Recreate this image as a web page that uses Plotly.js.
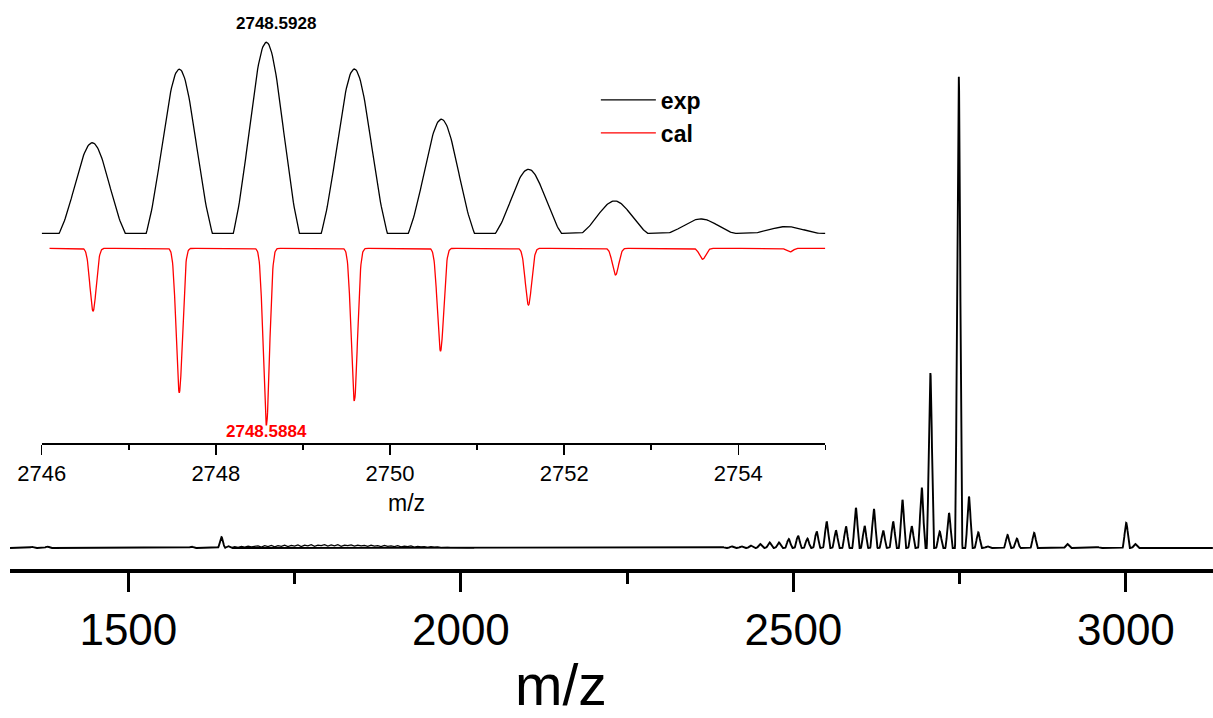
<!DOCTYPE html>
<html>
<head>
<meta charset="utf-8">
<script src="https://cdn.plot.ly/plotly-3.0.1.min.js"></script>
<style>html,body{margin:0;padding:0;background:#fff;}#chart{width:1213px;height:718px;}</style>
</head>
<body>
<div id="chart"></div>
<script>
// ---- Main spectrum: peak centres (m/z) and relative intensities (%)
const mainMz  = [1355, 1378, 1595, 1640, 1650,
  2393, 2407, 2422, 2436, 2450, 2464, 2478, 2493, 2507, 2521, 2535, 2550, 2564, 2579,
  2594, 2607, 2621, 2635, 2650, 2664, 2678, 2693, 2706, 2720, 2734, 2748.6, 2764, 2778,
  2792, 2822, 2836, 2862, 2912, 2957, 3000.5, 3014];
const mainInt = [0.25, 0.3, 0.3, 2.3, 0.4,
  0.2, 0.35, 0.35, 0.5, 0.85, 1.2, 1.2, 1.9, 2.6, 2.0, 3.5, 5.6, 3.7, 4.6,
  8.5, 4.7, 8.3, 3.7, 5.6, 10.2, 4.6, 12.8, 37.0, 3.5, 7.4, 100, 10.9, 3.3,
  0.35, 2.75, 2.0, 3.2, 0.85, 0.2, 5.3, 0.85];
// low-level noise band between ~1655 and ~2020 (estimated)
const noiseStart = 1655;
const noiseInt = [0.1,0.3,0.15,0.35,0.2,0.4,0.25,0.3,0.45,0.2,0.5,0.3,0.55,0.25,0.5,0.35,0.6,0.3,0.55,0.4,
  0.65,0.3,0.6,0.45,0.7,0.35,0.6,0.5,0.7,0.4,0.65,0.45,0.7,0.35,0.6,0.5,0.65,0.4,0.6,0.45,
  0.55,0.35,0.6,0.4,0.5,0.3,0.55,0.35,0.45,0.3,0.5,0.25,0.4,0.3,0.45,0.2,0.35,0.25,0.3,0.15,
  0.3,0.2,0.25,0.1,0.2,0.15,0.1,0.05,0.1,0.05,0.05,0,0,0];

// ---- Inset: isotope pattern, experimental vs calculated
const expMz  = [2746.58, 2747.58, 2748.58, 2749.59, 2750.59, 2751.59, 2752.58, 2753.57, 2754.55];
const expInt = [47.4, 85.9, 100, 86.0, 59.7, 33.5, 16.9, 7.5, 3.5];
const calMz  = [2746.59, 2747.58, 2748.58, 2749.59, 2750.58, 2751.59, 2752.59, 2753.59, 2754.59];
const calInt = [35.5, 81.7, 100, 86.4, 58.1, 32.1, 15.1, 6.2, 2.1];

const mainTicks = [1500, 2000, 2500, 3000];
const insetTicks = [2746, 2748, 2750, 2752, 2754];

// peak profile builder (truncated gaussian line shape)
function buildProfile(x0, x1, step, centers, heights, sigma, halfw) {
  const xs = [], ys = [];
  const cut = Math.exp(-halfw * halfw / (2 * sigma * sigma));
  for (let x = x0; x <= x1 + 1e-9; x += step) {
    let y = 0;
    for (let i = 0; i < centers.length; i++) {
      const d = x - centers[i];
      if (Math.abs(d) < halfw) {
        const v = heights[i] * (Math.exp(-d * d / (2 * sigma * sigma)) - cut) / (1 - cut);
        if (v > y) y = v;
      }
    }
    xs.push(+x.toFixed(4)); ys.push(y);
  }
  return {xs, ys};
}

const mainP = buildProfile(1322, 3131, 0.4, mainMz, mainInt, 2.4, 5.5);
const expP  = buildProfile(2746, 2755, 0.01, expMz, expInt, 0.2, 0.38);
const calP  = buildProfile(2746.09, 2755, 0.004, calMz, calInt, 0.036, 0.16);

const noiseX = noiseInt.map((_, i) => noiseStart + 5 * i);

const FONT = 'Liberation Sans, Arial, Helvetica, sans-serif';

const traces = [
  {x: mainP.xs, y: mainP.ys, type: 'scatter', mode: 'lines', xaxis: 'x', yaxis: 'y',
   line: {color: '#000', width: 1.9}, showlegend: false, hoverinfo: 'skip'},
  {x: noiseX, y: noiseInt, type: 'scatter', mode: 'lines', xaxis: 'x', yaxis: 'y',
   line: {color: '#000', width: 1.2}, showlegend: false, hoverinfo: 'skip'},
  {x: expP.xs, y: expP.ys, type: 'scatter', mode: 'lines', name: 'exp', xaxis: 'x2', yaxis: 'y2',
   line: {color: '#000', width: 1.3}},
  {x: calP.xs, y: calP.ys.map(v => -v), type: 'scatter', mode: 'lines', name: 'cal', xaxis: 'x2', yaxis: 'y3',
   line: {color: '#ff0000', width: 1.3}}
];

// plot area: l=10, width 1203 ; t=0, height 569
const layout = {
  width: 1213, height: 718,
  margin: {l: 10, r: 0, t: 0, b: 149},
  paper_bgcolor: '#fff', plot_bgcolor: 'rgba(0,0,0,0)',
  font: {family: FONT, color: '#000'},
  showlegend: true,
  legend: {x: 0.487, y: 0.862, xanchor: 'left', yanchor: 'top', bgcolor: 'rgba(0,0,0,0)', itemwidth: 55,
           font: {size: 23, weight: 'bold', family: FONT, color: '#000'}, tracegroupgap: 0},
  xaxis: {range: [1322, 3131], domain: [0, 1], anchor: 'y', showgrid: false, zeroline: false,
          showline: true, linewidth: 4, linecolor: '#000', mirror: false,
          ticks: 'outside', ticklen: 19, tickwidth: 3, tickcolor: '#000',
          tickmode: 'array', tickvals: mainTicks, ticktext: mainTicks.map(String),
          tickfont: {size: 44, family: FONT, color: '#000'},
          minor: {dtick: 250, tick0: 1250, ticks: 'outside', ticklen: 11, tickwidth: 3, tickcolor: '#000', showgrid: false}},
  yaxis: {range: [-4.44, 115.86], domain: [0, 1], visible: false, showgrid: false, zeroline: false},
  xaxis2: {range: [2746, 2755], domain: [0.02635, 0.6778], anchor: 'y2', showgrid: false, zeroline: false,
           showline: true, linewidth: 1.5, linecolor: '#000',
           ticks: 'outside', ticklen: 10, tickwidth: 1.5, tickcolor: '#000',
           tickmode: 'array', tickvals: insetTicks, ticktext: insetTicks.map(String),
           tickfont: {size: 22, family: FONT, color: '#000'},
           minor: {dtick: 1, tick0: 2746, ticks: 'outside', ticklen: 5, tickwidth: 1.5, tickcolor: '#000', showgrid: false}},
  yaxis2: {range: [-109.8, 106.44], domain: [0.2214, 0.9473], anchor: 'x2', visible: false, showgrid: false, zeroline: false},
  yaxis3: {range: [-110.19, 123.54], overlaying: 'y2', anchor: 'x2', visible: false, showgrid: false, zeroline: false},
  annotations: [
    {text: 'm/z', xref: 'paper', yref: 'paper', x: 0.458, y: -0.203, xanchor: 'center', yanchor: 'middle',
     showarrow: false, font: {size: 57, family: FONT, color: '#000'}},
    {text: 'm/z', xref: 'paper', yref: 'paper', x: 0.3292, y: 0.116, xanchor: 'center', yanchor: 'middle',
     showarrow: false, font: {size: 23, family: FONT, color: '#000'}},
    {text: '2748.5928', xref: 'paper', yref: 'paper', x: 0.2211, y: 0.959, xanchor: 'center', yanchor: 'middle',
     showarrow: false, font: {size: 17, weight: 'bold', family: FONT, color: '#000'}},
    {text: '2748.5884', xref: 'paper', yref: 'paper', x: 0.2136, y: 0.2413, xanchor: 'center', yanchor: 'middle',
     showarrow: false, font: {size: 17, weight: 'bold', family: FONT, color: '#ff0000'}}
  ]
};

Plotly.newPlot('chart', traces, layout, {displayModeBar: false, staticPlot: true});
</script>
</body>
</html>
